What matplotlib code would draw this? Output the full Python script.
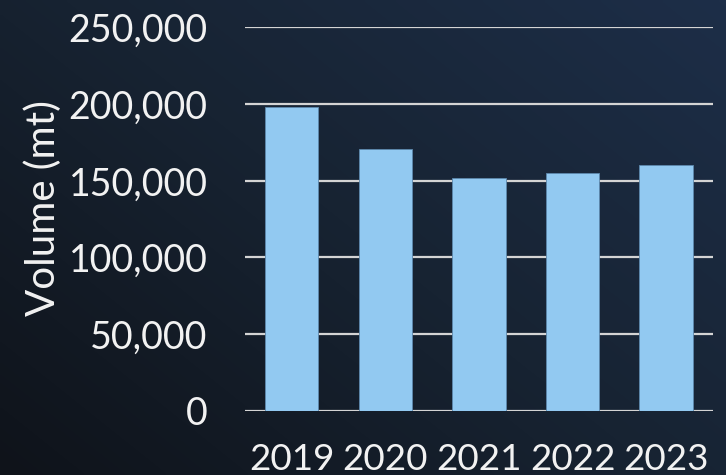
import numpy as np
import matplotlib
matplotlib.use("Agg")
import matplotlib.pyplot as plt
from matplotlib.colors import LinearSegmentedColormap

years = ["2019", "2020", "2021", "2022", "2023"]
volumes = [198000, 171000, 151500, 155000, 160000]
yticks = [0, 50000, 100000, 150000, 200000, 250000]
ytick_labels = ["0", "50,000", "100,000", "150,000", "200,000", "250,000"]

plt.rcParams['font.family'] = ['Lato', 'DejaVu Sans']

fig = plt.figure(figsize=(7.26, 4.75), dpi=100)

# background gradient
bg = fig.add_axes([0, 0, 1, 1], zorder=0)
nx, ny = 200, 130
xx, yy = np.meshgrid(np.linspace(0, 1, nx), np.linspace(0, 1, ny))
t = np.clip(0.55 * xx + 0.45 * yy, 0, 1)
cmap = LinearSegmentedColormap.from_list("bg", ["#0f131a", "#172332", "#1d2e48"])
bg.imshow(t, cmap=cmap, origin="lower", extent=[0, 1, 0, 1], aspect="auto", interpolation="bilinear")
bg.set_axis_off()

ax = fig.add_axes([0.3375, 0.135, 0.9820 - 0.3375, 0.9425 - 0.135], zorder=1)
ax.set_facecolor("none")
x = np.arange(len(years))
ax.bar(x, volumes, width=0.57, color="#92c9f1", edgecolor="#5d88ad", linewidth=0.6, zorder=3)
ax.set_xlim(-0.5, len(years) - 0.5)
ax.set_ylim(0, 250000)
ax.set_yticks(yticks)
ax.set_yticklabels(ytick_labels)
ax.set_xticks(x)
ax.set_xticklabels(years)
ax.yaxis.grid(True, color="#d4d4d4", linewidth=1.6, zorder=1)
ax.set_axisbelow(True)
for s in ax.spines.values():
    s.set_visible(False)
ax.tick_params(axis="both", length=0, colors="#f2f2f2")
ax.tick_params(axis="y", pad=27, labelsize=27)
ax.tick_params(axis="x", pad=23, labelsize=26.5)
ax.set_ylabel("Volume (mt)", color="#f2f2f2", fontsize=29)
ax.yaxis.set_label_coords(-0.392, 0.528)

fig.savefig("out.png", dpi=100)
